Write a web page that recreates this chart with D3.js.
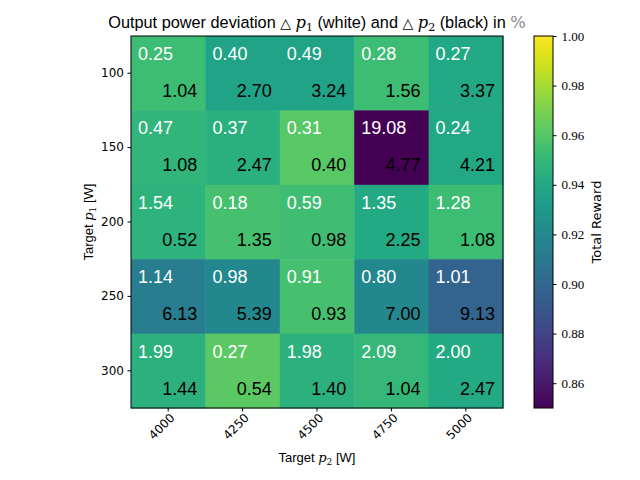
<!DOCTYPE html>
<html>
<head>
<meta charset="utf-8">
<script src="https://cdn.jsdelivr.net/npm/d3@7"></script>
<style>
  body { margin: 0; background: #fff; }
  text { font-family: "Liberation Sans", sans-serif; }
</style>
</head>
<body>
<div class="canva"></div>
<script>
const p2Targets = [4000, 4250, 4500, 4750, 5000];
const p1Targets = [100, 150, 200, 250, 300];

// total reward per cell, rows = p1, cols = p2
const reward = [
  [0.953, 0.937, 0.937, 0.953, 0.940],
  [0.948, 0.945, 0.961, 0.850, 0.940],
  [0.947, 0.956, 0.954, 0.941, 0.953],
  [0.913, 0.920, 0.956, 0.920, 0.898],
  [0.946, 0.962, 0.946, 0.950, 0.941]
];
// deviation of p1 (white) in %
const devP1 = [
  [0.25, 0.40, 0.49, 0.28, 0.27],
  [0.47, 0.37, 0.31, 19.08, 0.24],
  [1.54, 0.18, 0.59, 1.35, 1.28],
  [1.14, 0.98, 0.91, 0.80, 1.01],
  [1.99, 0.27, 1.98, 2.09, 2.00]
];
// deviation of p2 (black) in %
const devP2 = [
  [1.04, 2.70, 3.24, 1.56, 3.37],
  [1.08, 2.47, 0.40, 4.77, 4.21],
  [0.52, 1.35, 0.98, 2.25, 1.08],
  [6.13, 5.39, 0.93, 7.00, 9.13],
  [1.44, 0.54, 1.40, 1.04, 2.47]
];
const cbTicks = [0.86, 0.88, 0.90, 0.92, 0.94, 0.96, 0.98, 1.00];

const svg = d3.select('.canva').append('svg')
  .attr('width', 640)
  .attr('height', 480);

const mLeft = 131, mTop = 36, size = 372;

const x = d3.scaleBand().domain(p2Targets).range([mLeft, mLeft + size]);
const y = d3.scaleBand().domain(p1Targets).range([mTop, mTop + size]);
const color = d3.scaleSequential(d3.interpolateViridis).domain([0.85, 1.0]);

const cells = [];
p1Targets.forEach((p1, i) => {
  p2Targets.forEach((p2, j) => {
    cells.push({p1, p2, r: reward[i][j], a: devP1[i][j], b: devP2[i][j]});
  });
});

svg.append('g').selectAll('rect')
  .data(cells)
  .join('rect')
  .attr('x', d => x(d.p2))
  .attr('y', d => y(d.p1))
  .attr('width', x.bandwidth() + 0.5)
  .attr('height', y.bandwidth() + 0.5)
  .attr('fill', d => color(d.r));

svg.append('g').selectAll('text')
  .data(cells)
  .join('text')
  .attr('x', d => x(d.p2) + 7)
  .attr('y', d => y(d.p1) + 24)
  .attr('fill', '#fff')
  .style('font-size', '18px')
  .text(d => d.a.toFixed(2));

svg.append('g').selectAll('text')
  .data(cells)
  .join('text')
  .attr('x', d => x(d.p2) + x.bandwidth() - 8)
  .attr('y', d => y(d.p1) + 61)
  .attr('text-anchor', 'end')
  .attr('fill', '#000')
  .style('font-size', '18px')
  .text(d => d.b.toFixed(2));

// frame
svg.append('rect')
  .attr('x', mLeft).attr('y', mTop)
  .attr('width', size).attr('height', size)
  .attr('fill', 'none').attr('stroke', '#000').attr('stroke-width', 1);

// axes
const xAxis = svg.append('g')
  .attr('transform', `translate(0,${mTop + size})`)
  .call(d3.axisBottom(x).tickSize(3.5).tickPadding(3));
xAxis.select('.domain').remove();
xAxis.selectAll('text')
  .style('font-size', '12px')
  .style('font-family', '"DejaVu Sans", sans-serif')
  .attr('text-anchor', 'end')
  .attr('dx', '-0.2em')
  .attr('dy', '0.5em')
  .attr('transform', 'rotate(-45)');

const yAxis = svg.append('g')
  .attr('transform', `translate(${mLeft},0)`)
  .call(d3.axisLeft(y).tickSize(3.5).tickPadding(3.5));
yAxis.select('.domain').remove();
yAxis.selectAll('text')
  .style('font-size', '12px')
  .style('font-family', '"DejaVu Sans", sans-serif');

// title
const title = svg.append('text')
  .attr('x', mLeft + size / 2)
  .attr('y', 28)
  .attr('text-anchor', 'middle')
  .style('font-size', '16.3px');
title.append('tspan').text('Output power deviation ');
title.append('tspan').text('△ ').style('font-family', '"DejaVu Serif", serif').style('font-size', '14px');
title.append('tspan').text('p').style('font-family', '"DejaVu Serif", serif').style('font-style', 'italic');
title.append('tspan').text('1').attr('dy', 3).style('font-family', '"DejaVu Serif", serif').style('font-size', '11px');
title.append('tspan').text(' (white) and ').attr('dy', -3);
title.append('tspan').text('△ ').style('font-family', '"DejaVu Serif", serif').style('font-size', '14px');
title.append('tspan').text('p').style('font-family', '"DejaVu Serif", serif').style('font-style', 'italic');
title.append('tspan').text('2').attr('dy', 3).style('font-family', '"DejaVu Serif", serif').style('font-size', '11px');
title.append('tspan').text(' (black) in ').attr('dy', -3);
title.append('tspan').text('%').style('font-family', '"DejaVu Serif", serif').attr('fill', '#888');

// axis labels
const xl = svg.append('text')
  .attr('x', mLeft + size / 2)
  .attr('y', 462)
  .attr('text-anchor', 'middle')
  .style('font-size', '13px');
xl.append('tspan').text('Target ');
xl.append('tspan').text('p').style('font-family', '"DejaVu Serif", serif').style('font-style', 'italic');
xl.append('tspan').text('2').attr('dy', 3).style('font-family', '"DejaVu Serif", serif').style('font-size', '9px');
xl.append('tspan').text(' [W]').attr('dy', -3);

const yl = svg.append('text')
  .attr('transform', `translate(93,${mTop + size / 2}) rotate(-90)`)
  .attr('text-anchor', 'middle')
  .style('font-size', '13px');
yl.append('tspan').text('Target ');
yl.append('tspan').text('p').style('font-family', '"DejaVu Serif", serif').style('font-style', 'italic');
yl.append('tspan').text('1').attr('dy', 3).style('font-family', '"DejaVu Serif", serif').style('font-size', '9px');
yl.append('tspan').text(' [W]').attr('dy', -3);

// colorbar
const cbX = 534, cbW = 19;
const cbY = d3.scaleLinear().domain([0.85, 1.0]).range([mTop + size, mTop]);
const defs = svg.append('defs');
const grad = defs.append('linearGradient')
  .attr('id', 'cbgrad')
  .attr('x1', 0).attr('y1', 1).attr('x2', 0).attr('y2', 0);
d3.range(0, 1.0001, 0.05).forEach(t => {
  grad.append('stop').attr('offset', t).attr('stop-color', d3.interpolateViridis(t));
});
svg.append('rect')
  .attr('x', cbX).attr('y', mTop)
  .attr('width', cbW).attr('height', size)
  .attr('fill', 'url(#cbgrad)')
  .attr('stroke', '#000').attr('stroke-width', 1);

const cbAxis = svg.append('g')
  .attr('transform', `translate(${cbX + cbW},0)`)
  .call(d3.axisRight(cbY).tickValues(cbTicks).tickFormat(d3.format('.2f')).tickSize(3.5).tickPadding(5));
cbAxis.select('.domain').remove();
cbAxis.selectAll('text')
  .style('font-size', '13px')
  .style('font-family', '"Liberation Serif", serif');

svg.append('text')
  .attr('transform', `translate(601,${mTop + size / 2}) rotate(-90)`)
  .attr('text-anchor', 'middle')
  .style('font-size', '13px')
  .style('font-family', '"DejaVu Sans", sans-serif')
  .text('Total Reward');
</script>
</body>
</html>
